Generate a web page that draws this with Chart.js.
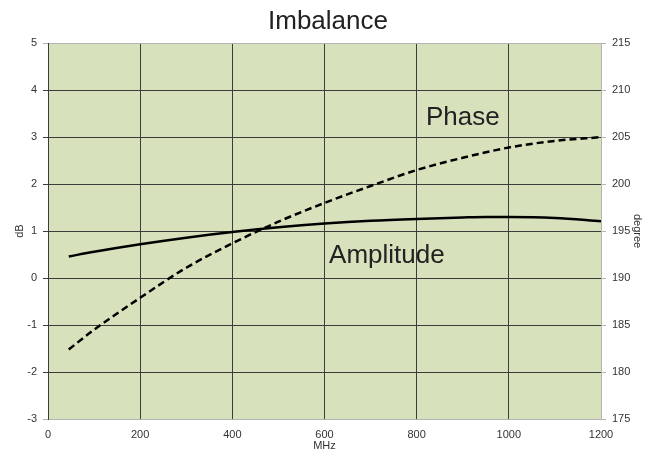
<!DOCTYPE html>
<html>
<head>
<meta charset="utf-8">
<script src="https://cdn.jsdelivr.net/npm/chart.js@4.4.1/dist/chart.umd.min.js"></script>
<style>
  html, body { margin: 0; padding: 0; background: #ffffff; }
  #wrap { width: 656px; height: 453px; }
</style>
</head>
<body>
<div id="wrap"><canvas id="c" width="656" height="453"></canvas></div>
<script>
const freqMHz     = [45, 100, 200, 300, 400, 500, 600, 700, 800, 900, 950, 1000, 1100, 1200];
const amplitudeDb = [0.46, 0.56, 0.72, 0.86, 0.98, 1.08, 1.16, 1.22, 1.26, 1.29, 1.30, 1.30, 1.28, 1.21];
const phaseFreqMHz = [45, 100, 200, 300, 400, 500, 600, 700, 800, 900, 1000, 1100, 1200];
const phaseDeg    = [182.4, 184.5, 187.9, 191.1, 193.7, 196.0, 198.0, 199.8, 201.5, 202.8, 203.9, 204.6, 205.0];
const xTicks = [0, 200, 400, 600, 800, 1000, 1200];
const dbTicks = [-3, -2, -1, 0, 1, 2, 3, 4, 5];
const degTicks = [175, 180, 185, 190, 195, 200, 205, 210, 215];
const labels = [
  { text: 'Phase', x: 820, y: 207.1, axis: 'y1' },
  { text: 'Amplitude', x: 610, y: 0.47, axis: 'y' }
];

const FONT = "'Liberation Sans', Arial, sans-serif";
const TXT = '#333333';
const GRID_DARK = '#3c3c3c';
const GRID_LIGHT = '#b4b4b4';

const bgPlugin = {
  id: 'bg',
  beforeDraw(chart) {
    const { ctx, chartArea: a } = chart;
    ctx.save();
    ctx.fillStyle = '#d7e2bd';
    ctx.fillRect(a.left, a.top, a.right - a.left, a.bottom - a.top);
    ctx.restore();
  }
};
const labelPlugin = {
  id: 'seriesLabels',
  afterDatasetsDraw(chart) {
    const { ctx, scales } = chart;
    ctx.save();
    ctx.font = '26px ' + FONT;
    ctx.fillStyle = '#222222';
    ctx.textAlign = 'left';
    ctx.textBaseline = 'middle';
    labels.forEach(l => {
      ctx.fillText(l.text, scales.x.getPixelForValue(l.x), scales[l.axis].getPixelForValue(l.y));
    });
    ctx.restore();
  }
};

new Chart(document.getElementById('c'), {
  type: 'line',
  data: {
    datasets: [
      {
        label: 'Amplitude',
        data: freqMHz.map((f, i) => ({ x: f, y: amplitudeDb[i] })),
        yAxisID: 'y',
        borderColor: '#000000',
        borderWidth: 2.5,
        pointRadius: 0,
        cubicInterpolationMode: 'monotone',
        fill: false
      },
      {
        label: 'Phase',
        data: phaseFreqMHz.map((f, i) => ({ x: f, y: phaseDeg[i] })),
        yAxisID: 'y1',
        borderColor: '#000000',
        borderWidth: 2.5,
        borderDash: [7, 4],
        pointRadius: 0,
        cubicInterpolationMode: 'monotone',
        fill: false
      }
    ]
  },
  options: {
    responsive: false,
    animation: false,
    devicePixelRatio: 1,
    layout: { padding: 0 },
    plugins: {
      legend: { display: false },
      tooltip: { enabled: false },
      title: {
        display: true,
        text: 'Imbalance',
        color: '#222222',
        font: { family: FONT, size: 26, weight: 'normal' },
        padding: { top: 6, bottom: 6 }
      }
    },
    scales: {
      x: {
        type: 'linear',
        min: 0, max: 1200,
        afterBuildTicks(s) { s.ticks = xTicks.map(v => ({ value: v })); },
        afterFit(s) { s.height = 34; },
        ticks: { color: TXT, font: { family: FONT, size: 11 }, padding: 9, maxRotation: 0, callback: v => String(v) },
        grid: {
          drawTicks: false,
          color: ctx => (ctx.index === xTicks.length - 1 ? GRID_LIGHT : GRID_DARK),
          lineWidth: 1
        },
        border: { display: true, color: GRID_LIGHT, width: 1 },
        title: { display: true, text: 'MHz', color: TXT, font: { family: FONT, size: 11 }, padding: { top: 0, bottom: 0 } }
      },
      y: {
        type: 'linear',
        position: 'left',
        min: -3, max: 5,
        afterBuildTicks(s) { s.ticks = dbTicks.map(v => ({ value: v })); },
        afterFit(s) { s.width = 48; },
        ticks: { color: TXT, font: { family: FONT, size: 11 }, padding: 6, callback: v => String(v) },
        grid: {
          tickLength: 5,
          color: ctx => (ctx.index === 0 || ctx.index === dbTicks.length - 1 ? GRID_LIGHT : GRID_DARK),
          lineWidth: 1
        },
        border: { display: true, color: GRID_DARK, width: 1 },
        title: { display: true, text: 'dB', color: TXT, font: { family: FONT, size: 11 }, padding: { top: 13, bottom: 0 } }
      },
      y1: {
        type: 'linear',
        position: 'right',
        min: 175, max: 215,
        afterBuildTicks(s) { s.ticks = degTicks.map(v => ({ value: v })); },
        afterFit(s) { s.width = 55; },
        ticks: { color: TXT, font: { family: FONT, size: 11 }, padding: 6, callback: v => String(v) },
        grid: { drawOnChartArea: false, tickLength: 5, color: GRID_LIGHT, lineWidth: 1 },
        border: { display: true, color: GRID_LIGHT, width: 1 },
        title: { display: true, text: 'degree', color: TXT, font: { family: FONT, size: 11 }, padding: { top: 12, bottom: 0 } }
      }
    }
  },
  plugins: [bgPlugin, labelPlugin]
});
</script>
</body>
</html>
